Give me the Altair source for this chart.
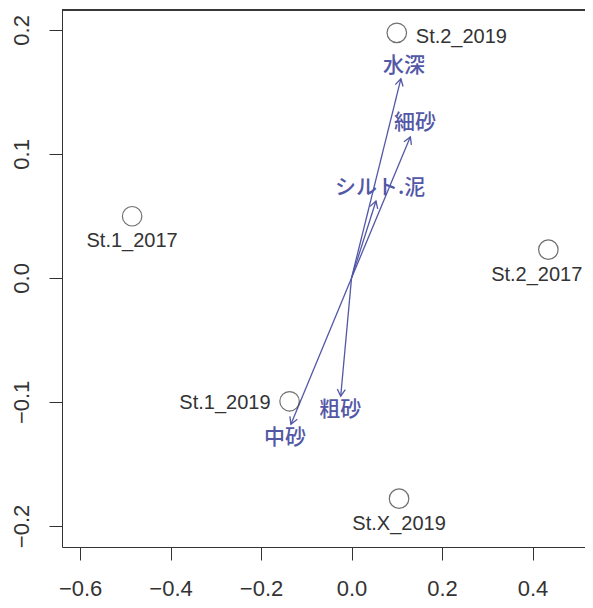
import math
import altair as alt
import pandas as pd

# ---- data ----
stations = ["St.1_2017", "St.2_2019", "St.2_2017", "St.1_2019", "St.X_2019"]
st_x = [-0.485, 0.100, 0.435, -0.137, 0.105]
st_y = [0.0497, 0.1976, 0.0228, -0.0995, -0.178]

vectors = ["水深", "細砂", "シルト.泥", "粗砂", "中砂"]
vec_x = [0.109, 0.130, 0.054, -0.024, -0.134]
vec_y = [0.1605, 0.1137, 0.0620, -0.0954, -0.1180]
# label anchor positions of the vectors (data units)
lab_x = [0.116, 0.140, 0.063, -0.025, -0.147]
lab_y = [0.1709, 0.1249, 0.0725, -0.1065, -0.1290]

x_ticks = [-0.6, -0.4, -0.2, 0.0, 0.2, 0.4]
y_ticks = [-0.2, -0.1, 0.0, 0.1, 0.2]
x_domain = [-0.640, 0.516]
y_domain = [-0.217, 0.216]

W, H = 523, 537
VEC_COLOR = "#5257a6"
INK = "#333333"

# screen pixels per data unit, used to orient arrowheads
sx = W / (x_domain[1] - x_domain[0])
sy = H / (y_domain[1] - y_domain[0])

st_df = pd.DataFrame({"name": stations, "x": st_x, "y": st_y})
vec_df = pd.DataFrame({"name": vectors, "x": vec_x, "y": vec_y,
                       "lx": lab_x, "ly": lab_y})
vec_df["x0"] = 0.0
vec_df["y0"] = 0.0
vec_df["ang"] = [
    (math.degrees(math.atan2(a * sx, b * sy)) + 360) % 360 for a, b in zip(vec_x, vec_y)
]

xs = alt.Scale(domain=x_domain, nice=False, zero=False)
ys = alt.Scale(domain=y_domain, nice=False, zero=False)

x_axis = alt.Axis(values=x_ticks, format=".1f", title=None, grid=False,
                  tickSize=13, labelPadding=18, labelFontSize=22,
                  labelFont="Liberation Sans", labelColor=INK,
                  domainColor=INK, tickColor=INK, labelFlush=False)
y_axis = alt.Axis(values=y_ticks, format=".1f", title=None, grid=False,
                  tickSize=13, labelPadding=16, labelFontSize=22,
                  labelFont="Liberation Sans", labelColor=INK,
                  domainColor=INK, tickColor=INK, labelAngle=270,
                  labelAlign="center", labelBaseline="bottom", labelFlush=False)

base_st = alt.Chart(st_df)

points = base_st.mark_point(shape="circle", size=380, filled=False,
                            color=INK, strokeWidth=1.2).encode(
    x=alt.X("x:Q", scale=xs, axis=x_axis),
    y=alt.Y("y:Q", scale=ys, axis=y_axis),
)

def st_text(names, **kw):
    return base_st.transform_filter(
        alt.FieldOneOfPredicate(field="name", oneOf=names)
    ).mark_text(font="Liberation Sans", fontSize=20, color=INK, **kw).encode(
        x=alt.X("x:Q", scale=xs), y=alt.Y("y:Q", scale=ys), text="name:N"
    )

lab_below = st_text(["St.1_2017", "St.X_2019"], align="center",
                    baseline="middle", dy=25)
lab_below_edge = st_text(["St.2_2017"], align="right",
                         baseline="middle", dx=34, dy=25)
lab_right = st_text(["St.2_2019"], align="left", baseline="middle", dx=19, dy=4)
lab_left = st_text(["St.1_2019"], align="right", baseline="middle", dx=-19, dy=2)

base_vec = alt.Chart(vec_df)
shafts = base_vec.mark_rule(color=VEC_COLOR, strokeWidth=1.3).encode(
    x=alt.X("x0:Q", scale=xs), y=alt.Y("y0:Q", scale=ys),
    x2="x:Q", y2="y:Q",
)
heads = base_vec.mark_point(shape="M-0.5,0.866L0,0L0.5,0.866", size=256,
                            filled=False, color=VEC_COLOR, strokeWidth=1.3,
                            opacity=1).encode(
    x=alt.X("x:Q", scale=xs), y=alt.Y("y:Q", scale=ys),
    angle=alt.Angle("ang:Q", scale=None),
)
vec_labels = base_vec.mark_text(font="Noto Sans CJK JP", fontSize=21,
                                fontWeight=500, color=VEC_COLOR,
                                align="center", baseline="middle").encode(
    x=alt.X("lx:Q", scale=xs), y=alt.Y("ly:Q", scale=ys), text="name:N"
)

top_border = alt.Chart(st_df).mark_rule(color=INK, strokeWidth=1).encode(
    x=alt.value(0), x2=alt.value(W), y=alt.value(0)
)

chart = alt.layer(
    top_border, shafts, heads, vec_labels, points,
    lab_below, lab_below_edge, lab_right, lab_left
).properties(
    width=W, height=H,
    padding={"left": 54, "top": 2, "right": 0, "bottom": 53},
    autosize=alt.AutoSizeParams(type="none"),
).configure_view(stroke=None)

chart.save("out.html", embed_options={"renderer": "svg", "actions": False})
